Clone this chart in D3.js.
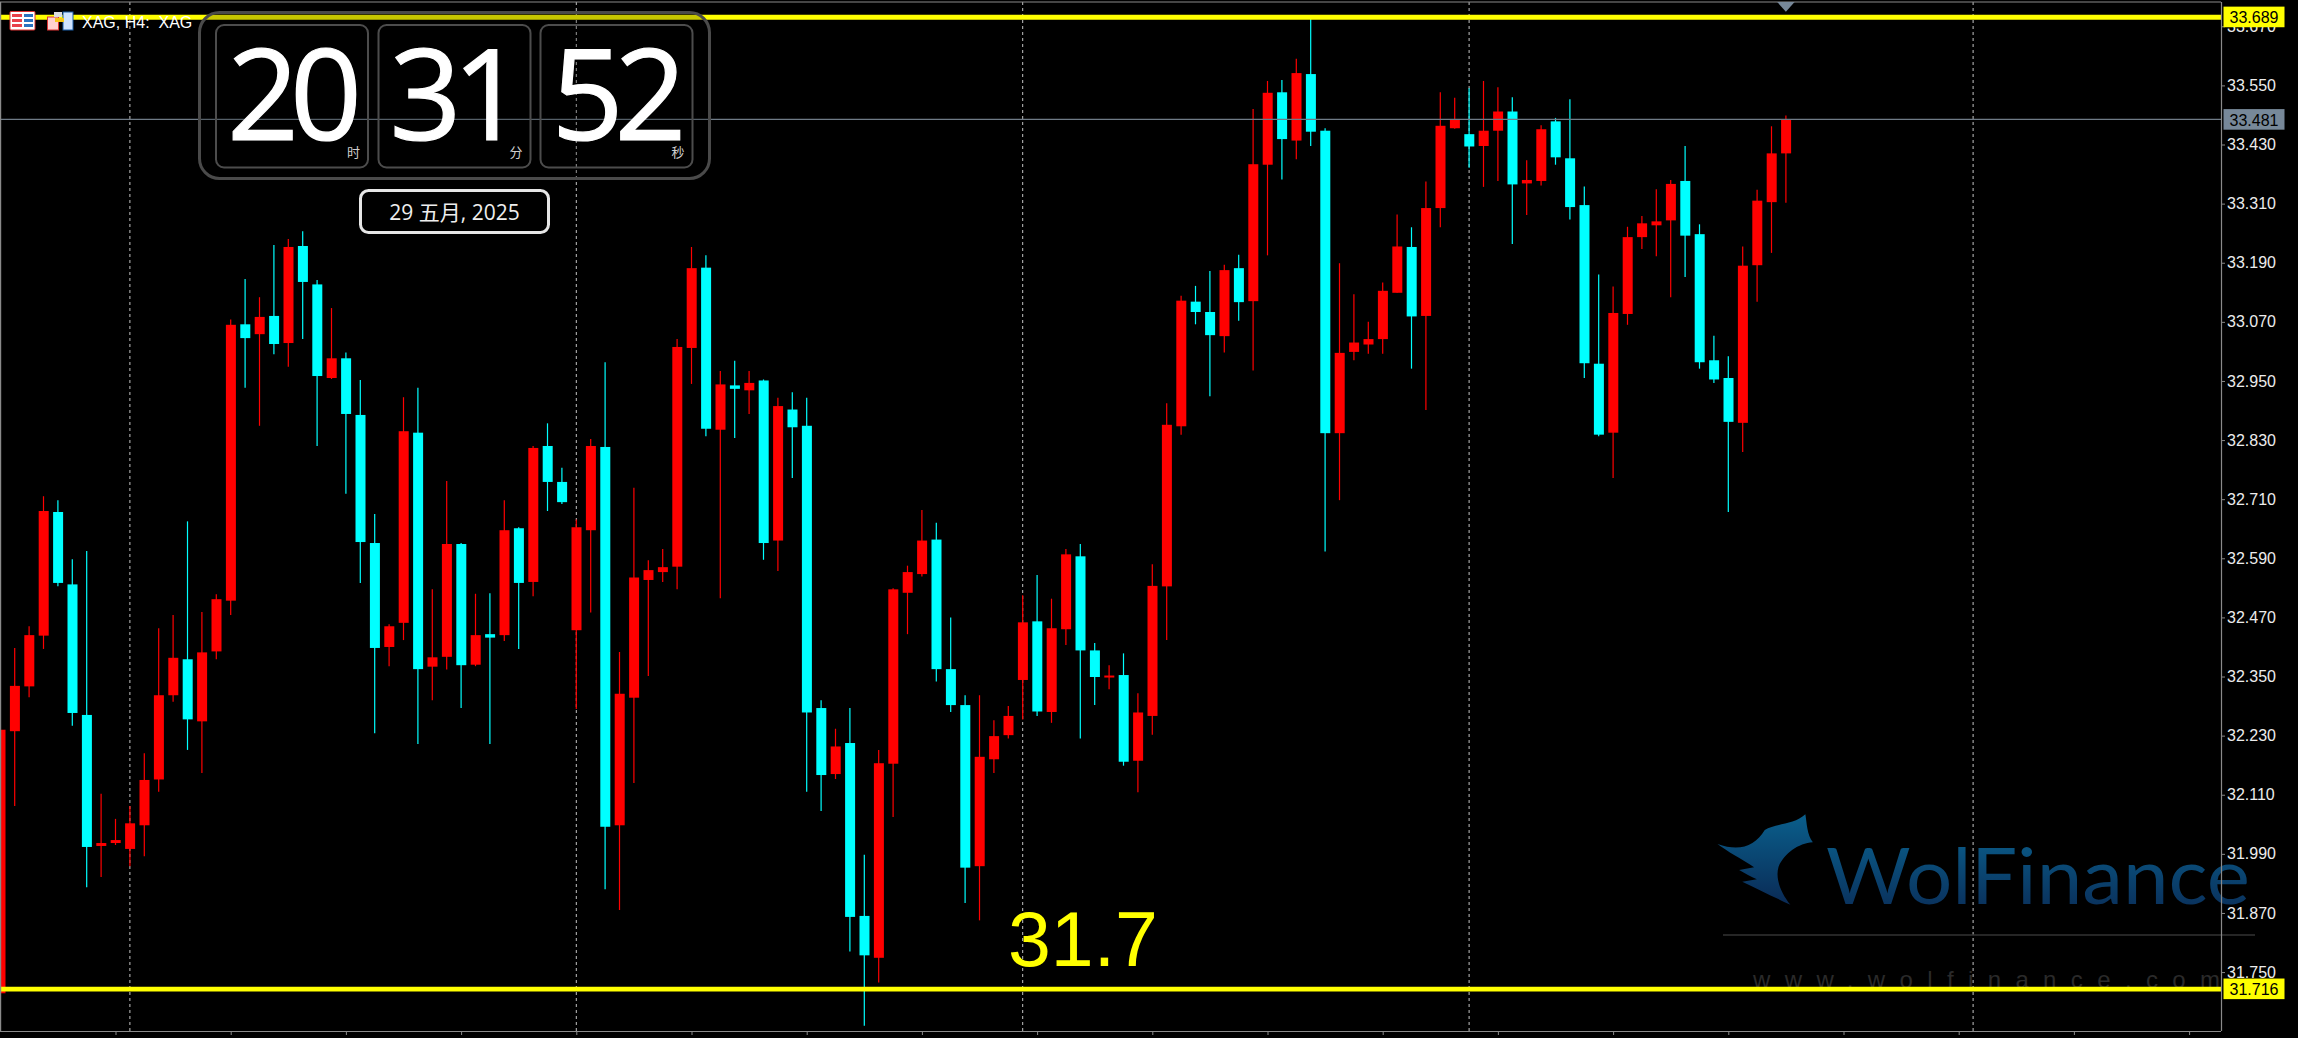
<!DOCTYPE html>
<html>
<head>
<meta charset="utf-8">
<style>html,body{margin:0;padding:0;background:#000;overflow:hidden}svg{display:block}</style>
<script src="https://cdn.jsdelivr.net/npm/d3@7"></script>
</head>
<body>
<svg id="c" width="2298" height="1038"></svg>
<script>
const opens=[31.707,32.239,32.330,32.433,32.684,32.537,32.272,32.006,32.012,32.000,32.048,32.141,32.312,32.385,32.259,32.401,32.504,33.065,33.045,33.082,33.027,33.224,33.146,32.956,32.996,32.881,32.621,32.410,32.459,32.845,32.370,32.390,32.619,32.374,32.436,32.434,32.651,32.542,32.818,32.745,32.444,32.647,32.816,32.048,32.307,32.546,32.562,32.573,33.017,33.180,32.851,32.941,32.931,32.951,32.626,32.892,32.859,32.286,32.152,32.215,31.864,31.779,32.173,32.520,32.558,32.628,32.365,32.292,31.965,32.182,32.231,32.343,32.462,32.278,32.446,32.594,32.403,32.348,32.353,32.179,32.270,32.533,32.858,33.111,33.090,33.041,33.179,33.112,33.389,33.536,33.438,33.573,33.458,32.844,33.009,33.024,33.035,33.129,33.222,33.082,33.301,33.463,33.451,33.427,33.458,33.497,33.351,33.356,33.477,33.402,33.307,32.985,32.845,33.086,33.242,33.266,33.276,33.356,33.248,32.992,32.956,32.865,33.185,33.313,33.412];
const highs=[32.243,32.408,32.452,32.716,32.708,32.588,32.605,32.112,32.061,32.087,32.194,32.448,32.475,32.665,32.481,32.517,33.075,33.157,33.120,33.226,33.238,33.254,33.155,33.098,33.008,32.952,32.680,32.456,32.917,32.936,32.527,32.747,32.621,32.518,32.519,32.708,32.653,32.818,32.864,32.774,32.669,32.832,32.988,32.400,32.733,32.586,32.609,33.035,33.222,33.205,32.970,32.991,32.970,32.953,32.916,32.927,32.916,32.302,32.244,32.286,31.988,32.201,32.529,32.575,32.688,32.662,32.470,32.312,32.312,32.261,32.290,32.515,32.556,32.508,32.609,32.619,32.418,32.373,32.397,32.316,32.578,32.905,33.123,33.143,33.173,33.186,33.206,33.502,33.559,33.561,33.604,33.689,33.463,33.189,33.126,33.070,33.150,33.288,33.262,33.355,33.536,33.525,33.544,33.559,33.546,33.526,33.398,33.469,33.484,33.522,33.345,33.166,33.142,33.263,33.285,33.339,33.358,33.427,33.268,33.042,33.000,33.223,33.338,33.467,33.489];
const lows=[31.703,32.087,32.308,32.406,32.533,32.250,31.922,31.943,32.008,31.965,31.985,32.116,32.299,32.201,32.154,32.385,32.475,32.936,32.859,33.004,32.979,33.035,32.818,32.954,32.721,32.540,32.235,32.371,32.424,32.213,32.302,32.364,32.286,32.371,32.213,32.422,32.406,32.513,32.686,32.700,32.284,32.480,31.918,31.876,32.134,32.351,32.542,32.527,32.944,32.838,32.509,32.834,32.883,32.587,32.564,32.753,32.116,32.077,32.142,31.792,31.641,31.729,32.065,32.436,32.553,32.340,32.278,31.890,31.855,32.154,32.224,32.263,32.270,32.256,32.414,32.224,32.292,32.324,32.169,32.115,32.232,32.424,32.841,33.065,32.919,33.008,33.072,32.971,33.205,33.359,33.400,33.427,32.604,32.708,32.992,33.005,33.005,33.129,32.975,32.891,33.262,33.462,33.383,33.344,33.356,33.228,33.287,33.347,33.389,33.278,32.956,32.838,32.753,33.064,33.218,33.203,33.120,33.161,32.975,32.946,32.684,32.806,33.111,33.210,33.312];
const closes=[32.242,32.331,32.434,32.686,32.540,32.276,32.004,32.012,32.018,32.052,32.140,32.312,32.388,32.263,32.399,32.507,33.064,33.037,33.080,33.025,33.222,33.151,32.960,32.996,32.883,32.623,32.408,32.452,32.848,32.365,32.389,32.619,32.373,32.434,32.429,32.647,32.540,32.814,32.745,32.704,32.653,32.818,32.045,32.315,32.551,32.566,32.572,33.019,33.179,32.853,32.943,32.934,32.946,32.621,32.899,32.856,32.277,32.150,32.208,31.862,31.784,32.174,32.527,32.562,32.626,32.365,32.292,31.962,32.187,32.229,32.270,32.460,32.279,32.448,32.598,32.403,32.349,32.352,32.177,32.277,32.534,32.861,33.113,33.090,33.043,33.175,33.110,33.390,33.535,33.441,33.575,33.456,32.844,33.007,33.028,33.035,33.133,33.223,33.081,33.301,33.468,33.481,33.426,33.458,33.497,33.349,33.358,33.461,33.404,33.303,32.986,32.841,33.088,33.242,33.270,33.274,33.350,33.245,32.988,32.953,32.867,33.184,33.316,33.412,33.481];
const priceTicks=[33.67,33.55,33.43,33.31,33.19,33.07,32.95,32.83,32.71,32.59,32.47,32.35,32.23,32.11,31.99,31.87,31.75];
const sessionBars=[9,40,71,102,137];
const timeTicks=[8,16,24,32,40,48,56,64,72,80,88,96,104,112,120,128,136,144,152];
const levels=[33.689,31.716];
const lastPrice=33.481;
const clockParts=[{num:"20",unit:"时"},{num:"31",unit:"分"},{num:"52",unit:"秒"}];

const BULL="#ff0000",BEAR="#00ffff",YEL="#ffff00",SLATE="#778899",FRAME="#8a8a8a";
const R=2221,T=2,B=1031;
const svg=d3.select("#c");
const y=d3.scaleLinear().domain([33.55,31.75]).range([85.4,972.08]);
const x=d3.scaleLinear().domain([0,124]).range([0.3,1785.9]);
const candles=opens.map((o,i)=>({i,o,h:highs[i],l:lows[i],c:closes[i]}));

svg.append("rect").attr("width",2298).attr("height",1038).attr("fill","#000");

// session separators
svg.append("g").selectAll("line").data(sessionBars).join("line")
  .attr("x1",d=>x(d)).attr("x2",d=>x(d)).attr("y1",T).attr("y2",B)
  .attr("stroke","#c4c4c4").attr("stroke-width",1).attr("stroke-dasharray","3 3");

// watermark
const defs=svg.append("defs");
const g1=defs.append("linearGradient").attr("id","wf").attr("x1",0).attr("y1",0).attr("x2",0).attr("y2",1);
g1.append("stop").attr("offset","0").attr("stop-color","#0a5f8c");
g1.append("stop").attr("offset","1").attr("stop-color","#0a2a55");
const wm=svg.append("g");
wm.append("path").attr("transform","translate(1680,780) scale(0.3942,0.3333)")
  .attr("fill","url(#wf)")
  .attr("d","M318 103 C322 130 322 165 337 187 C300 190 265 220 250 260 C240 300 260 345 280 374 C235 350 195 325 158 305 L195 298 C180 290 165 280 150 270 L188 262 C155 235 120 215 95 192 C150 215 190 200 215 150 C240 130 290 135 318 103 Z");
wm.append("text").attr("x",1826).attr("y",904).attr("textLength",424).attr("lengthAdjust","spacingAndGlyphs")
  .attr("font-family","Lato").attr("font-weight",400).attr("font-size",77).attr("fill","url(#wf)").text("WolFinance");
wm.append("line").attr("x1",1723).attr("x2",2255).attr("y1",935).attr("y2",935).attr("stroke","#333").attr("stroke-width",1.5);
wm.append("text").attr("x",1753).attr("y",988).attr("textLength",467)
  .attr("font-family","Liberation Sans").attr("font-size",24).attr("fill","#2a2a2a").text("www.wolfinance.com");

// candles
const cg=svg.append("g");
cg.selectAll("line").data(candles).join("line")
  .attr("x1",d=>x(d.i)).attr("x2",d=>x(d.i)).attr("y1",d=>y(d.h)).attr("y2",d=>y(d.l))
  .attr("stroke",d=>d.c>=d.o?BULL:BEAR).attr("stroke-width",1.2);
cg.selectAll("rect").data(candles).join("rect")
  .attr("x",d=>x(d.i)-4.8).attr("width",10)
  .attr("y",d=>y(Math.max(d.o,d.c)))
  .attr("height",d=>Math.max(2,y(Math.min(d.o,d.c))-y(Math.max(d.o,d.c))))
  .attr("fill",d=>d.c>=d.o?BULL:BEAR);

// last price line
svg.append("line").attr("x1",0).attr("x2",R).attr("y1",y(lastPrice)).attr("y2",y(lastPrice))
  .attr("stroke","#6f7b87").attr("stroke-width",1.2);

// level lines
svg.append("g").selectAll("line").data(levels).join("line")
  .attr("x1",0).attr("x2",R).attr("y1",d=>y(d)+0.3).attr("y2",d=>y(d)+0.3)
  .attr("stroke",YEL).attr("stroke-width",4.8);

// annotation
svg.append("text").attr("x",1008).attr("y",966).attr("font-family","Liberation Sans")
  .attr("font-size",77).attr("fill",YEL).text("31.7");

// frame + axes
svg.append("line").attr("x1",0).attr("x2",R).attr("y1",T).attr("y2",T).attr("stroke",FRAME).attr("stroke-width",1.2);
svg.append("line").attr("x1",0.6).attr("x2",0.6).attr("y1",T).attr("y2",B).attr("stroke",FRAME).attr("stroke-width",1.2);

const yAxis=svg.append("g").attr("transform",`translate(${R},0)`)
  .call(d3.axisRight(y).tickValues(priceTicks).tickFormat(d3.format(".3f")).tickSize(4).tickPadding(2));
yAxis.select(".domain").attr("d",`M0.5,${T}V${B}`).attr("stroke",FRAME).attr("stroke-width",1.2);
yAxis.selectAll(".tick line").attr("stroke",FRAME);
yAxis.selectAll(".tick text").attr("font-family","Liberation Sans").attr("font-size",16).attr("fill","#ececec");

const xAxis=svg.append("g").attr("transform",`translate(0,${B})`)
  .call(d3.axisBottom(x).tickValues(timeTicks).tickFormat("").tickSize(4));
xAxis.select(".domain").attr("d",`M0,0.5H${R}`).attr("stroke",FRAME).attr("stroke-width",1.2);
xAxis.selectAll(".tick line").attr("stroke",FRAME);

// price tags
const tags=svg.append("g");
const tagData=[{v:levels[0],fill:YEL},{v:lastPrice,fill:SLATE},{v:levels[1],fill:YEL}];
tags.selectAll("rect").data(tagData).join("rect")
  .attr("x",R+2.5).attr("y",d=>y(d.v)-10.3).attr("width",61).attr("height",20.6).attr("fill",d=>d.fill);
tags.selectAll("text").data(tagData).join("text")
  .attr("x",R+33).attr("y",d=>y(d.v)+6.2).attr("text-anchor","middle")
  .attr("font-family","Liberation Sans").attr("font-size",16).attr("fill","#000")
  .text(d=>d3.format(".3f")(d.v));
svg.append("path").attr("d",d3.line()([[x(124)-8.7,T],[x(124)+8.7,T],[x(124),11.7]])+"Z").attr("fill",SLATE);

// header icons + title
const ic=svg.append("g");
ic.append("rect").attr("x",10).attr("y",11.5).attr("width",25).attr("height",18.5).attr("rx",1).attr("fill","#fff").attr("stroke","#d33").attr("stroke-width",1);
[14,19,24].forEach(v=>{
  ic.append("rect").attr("x",12).attr("y",v).attr("width",10).attr("height",3).attr("fill","#e8404a");
  ic.append("rect").attr("x",24).attr("y",v).attr("width",9).attr("height",3).attr("fill","#2a72c0");
});
ic.append("rect").attr("x",47.5).attr("y",17).attr("width",11).attr("height",13).attr("fill","#ffd0d0").attr("stroke","#d33");
ic.append("rect").attr("x",63).attr("y",12).attr("width",10).attr("height",18).attr("fill","#cfe4ff").attr("stroke","#1a5fa8");
ic.append("rect").attr("x",54).attr("y",12).attr("width",8).attr("height",5).attr("fill","#ddd");
ic.append("rect").attr("x",55).attr("y",18).attr("width",9).attr("height",4).attr("fill","#f5c518");
svg.append("text").attr("x",82).attr("y",28).attr("font-family","Liberation Sans").attr("font-size",16)
  .attr("fill","#fff").attr("xml:space","preserve").text("XAG, H4:  XAG");

// clock widget
const ck=svg.append("g");
ck.append("rect").attr("x",199.5).attr("y",12.5).attr("width",510).attr("height",166).attr("rx",20)
  .attr("fill","rgba(0,0,0,0.22)").attr("stroke","#4a4a4a").attr("stroke-width",3);
const boxX=[216,378.5,540.5];
const cells=ck.selectAll("g").data(clockParts).join("g");
cells.append("rect").attr("x",(d,i)=>boxX[i]).attr("y",25).attr("width",152).attr("height",142.5).attr("rx",8)
  .attr("fill","none").attr("stroke","#4c4c4c").attr("stroke-width",2);
cells.append("text").attr("x",(d,i)=>boxX[i]+74).attr("y",140).attr("text-anchor","middle")
  .attr("font-family","Open Sans").attr("font-size",126).attr("letter-spacing",-9)
  .attr("stroke","#fff").attr("stroke-width",1.2).attr("fill","#fff").text(d=>d.num);
cells.append("text").attr("x",(d,i)=>boxX[i]+144).attr("y",157).attr("text-anchor","end")
  .attr("font-family","Noto Sans CJK SC").attr("font-size",13).attr("fill","#d0d0d0").text(d=>d.unit);
ck.append("rect").attr("x",360.5).attr("y",190.5).attr("width",188).attr("height",42).attr("rx",8)
  .attr("fill","#000").attr("stroke","#e6e6e6").attr("stroke-width",3);
ck.append("text").attr("x",454.5).attr("y",220).attr("text-anchor","middle")
  .attr("font-family","Open Sans, Noto Sans CJK SC").attr("font-size",21).attr("fill","#eee").text("29 五月, 2025");
</script>
</body>
</html>
